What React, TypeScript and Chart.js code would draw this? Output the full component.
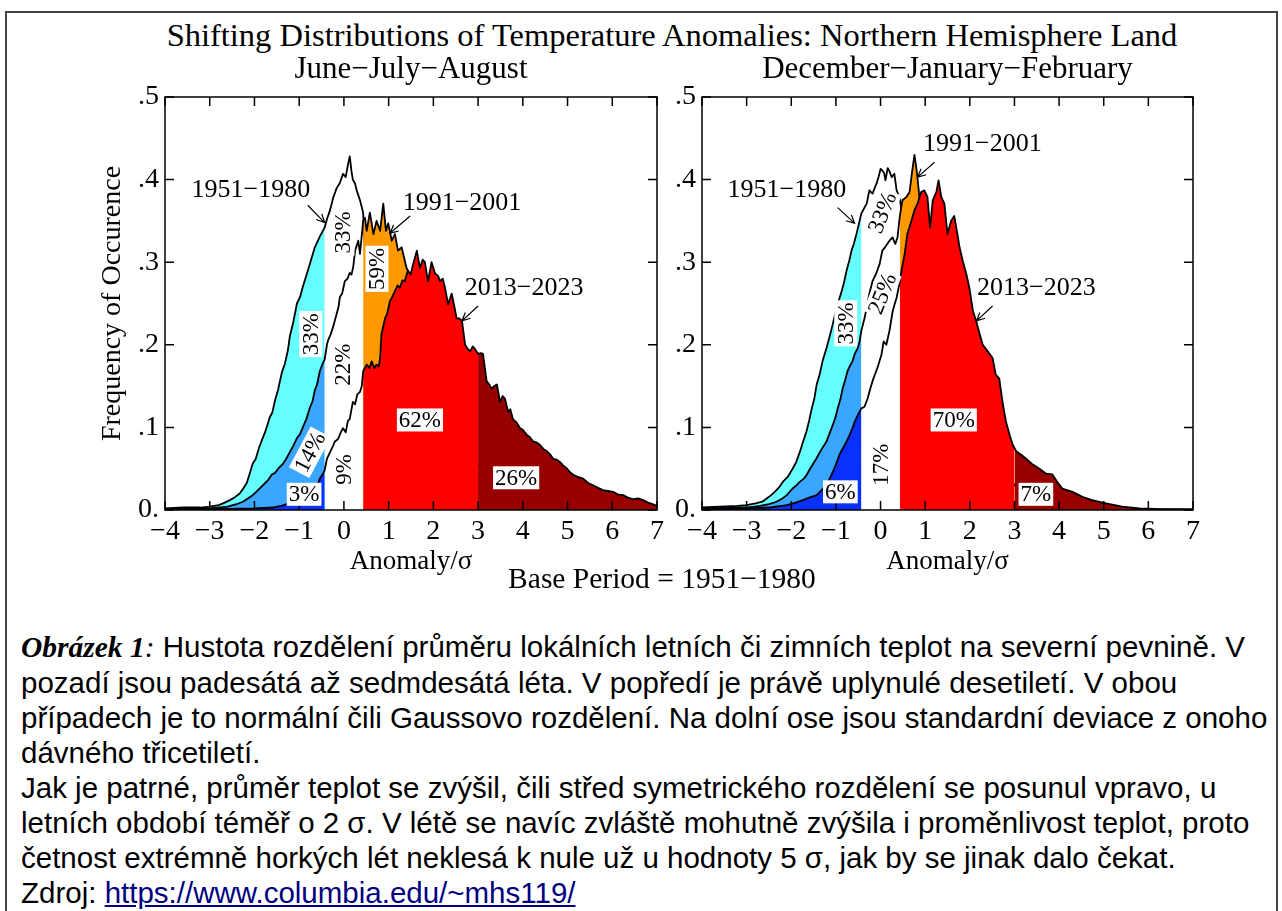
import React, { useEffect, useRef } from 'react';
import { Chart, registerables } from 'chart.js';

Chart.register(...registerables);

const SERIF = "'Liberation Serif', 'Times New Roman', serif";
const SANS = "'Liberation Sans', Arial, sans-serif";

// ---------------- data ----------------
const xTickLabels = ['−4', '−3', '−2', '−1', '0', '1', '2', '3', '4', '5', '6', '7'];
const yTickLabels = ['0.', '.1', '.2', '.3', '.4', '.5'];

// category thresholds (in sigma)
const COLD_EDGE = -0.43;
const HOT_EDGE = 0.43;
const EXTREME_EDGE = 3.0;

// June-July-August  [anomaly/σ, frequency]
const jja1951 = [[-4.0,0.002],[-3.6,0.003],[-3.2,0.003],[-3.0,0.004],[-2.8,0.006],[-2.7,0.008],[-2.55,0.012],[-2.45,0.015],[-2.33,0.02],[-2.25,0.026],[-2.17,0.033],[-2.1,0.045],[-2.04,0.056],[-1.97,0.062],[-1.9,0.075],[-1.81,0.088],[-1.75,0.096],[-1.66,0.112],[-1.6,0.118],[-1.54,0.133],[-1.47,0.146],[-1.39,0.166],[-1.32,0.177],[-1.25,0.194],[-1.21,0.21],[-1.13,0.228],[-1.05,0.25],[-0.98,0.258],[-0.92,0.27],[-0.84,0.284],[-0.76,0.298],[-0.65,0.318],[-0.54,0.331],[-0.43,0.342],[-0.38,0.352],[-0.31,0.363],[-0.24,0.378],[-0.16,0.39],[-0.09,0.396],[-0.02,0.407],[0.04,0.403],[0.09,0.418],[0.13,0.428],[0.17,0.41],[0.2,0.4],[0.25,0.395],[0.29,0.386],[0.36,0.375],[0.43,0.36],[0.47,0.31],[0.6,0.29],[0.8,0.265],[1.0,0.235],[1.2,0.2],[1.5,0.14],[1.8,0.09],[2.1,0.05],[2.5,0.02],[3.0,0.006],[3.5,0.002],[4.0,0.001],[5.0,0],[7.0,0]];
const jja1991 = [[-4.0,0.001],[-3.0,0.002],[-2.6,0.004],[-2.4,0.007],[-2.26,0.01],[-2.15,0.014],[-2.04,0.018],[-1.92,0.024],[-1.81,0.03],[-1.7,0.036],[-1.61,0.043],[-1.54,0.045],[-1.47,0.05],[-1.36,0.056],[-1.29,0.062],[-1.21,0.07],[-1.13,0.078],[-1.05,0.087],[-0.98,0.092],[-0.92,0.1],[-0.84,0.11],[-0.76,0.124],[-0.7,0.132],[-0.65,0.145],[-0.6,0.152],[-0.54,0.168],[-0.47,0.178],[-0.43,0.182],[-0.38,0.2],[-0.35,0.206],[-0.3,0.212],[-0.24,0.222],[-0.16,0.238],[-0.12,0.246],[-0.09,0.258],[-0.04,0.262],[0.02,0.277],[0.08,0.28],[0.13,0.287],[0.17,0.285],[0.21,0.295],[0.25,0.314],[0.32,0.326],[0.36,0.31],[0.43,0.35],[0.47,0.354],[0.51,0.338],[0.58,0.36],[0.66,0.334],[0.73,0.35],[0.81,0.338],[0.88,0.371],[0.94,0.338],[0.99,0.347],[1.07,0.326],[1.14,0.334],[1.21,0.314],[1.29,0.318],[1.4,0.293],[1.48,0.284],[1.6,0.27],[1.8,0.24],[2.0,0.2],[2.3,0.15],[2.6,0.1],[3.0,0.055],[3.5,0.025],[4.0,0.012],[4.5,0.006],[5.0,0.003],[6.0,0.001],[7.0,0]];
const jja2013 = [[-4.0,0.001],[-3.0,0.001],[-2.0,0.002],[-1.6,0.003],[-1.4,0.005],[-1.28,0.007],[-1.1,0.008],[-0.95,0.01],[-0.86,0.011],[-0.76,0.013],[-0.68,0.018],[-0.61,0.026],[-0.54,0.038],[-0.47,0.044],[-0.43,0.048],[-0.38,0.062],[-0.31,0.07],[-0.24,0.078],[-0.2,0.083],[-0.13,0.086],[-0.07,0.094],[-0.02,0.099],[0.04,0.094],[0.09,0.108],[0.13,0.11],[0.2,0.131],[0.25,0.128],[0.3,0.14],[0.36,0.143],[0.4,0.15],[0.43,0.168],[0.51,0.176],[0.57,0.172],[0.62,0.18],[0.68,0.172],[0.73,0.176],[0.78,0.174],[0.81,0.184],[0.84,0.213],[0.92,0.232],[0.97,0.238],[1.03,0.253],[1.08,0.258],[1.14,0.265],[1.2,0.272],[1.25,0.269],[1.31,0.278],[1.36,0.277],[1.43,0.29],[1.49,0.285],[1.55,0.298],[1.63,0.314],[1.7,0.293],[1.76,0.303],[1.81,0.3],[1.88,0.277],[1.96,0.3],[2.04,0.286],[2.1,0.284],[2.15,0.277],[2.21,0.28],[2.26,0.269],[2.33,0.249],[2.41,0.262],[2.47,0.246],[2.52,0.232],[2.58,0.232],[2.64,0.229],[2.71,0.2],[2.77,0.195],[2.82,0.192],[2.88,0.198],[2.93,0.195],[3.0,0.189],[3.06,0.19],[3.11,0.189],[3.19,0.156],[3.25,0.152],[3.3,0.147],[3.36,0.15],[3.42,0.152],[3.49,0.131],[3.55,0.138],[3.6,0.135],[3.67,0.119],[3.72,0.122],[3.78,0.11],[3.86,0.106],[3.94,0.099],[4.0,0.097],[4.09,0.091],[4.16,0.088],[4.23,0.083],[4.3,0.082],[4.38,0.079],[4.46,0.074],[4.54,0.071],[4.6,0.068],[4.68,0.062],[4.75,0.061],[4.83,0.058],[4.9,0.054],[4.99,0.05],[5.05,0.046],[5.12,0.043],[5.23,0.04],[5.35,0.038],[5.45,0.033],[5.57,0.03],[5.68,0.027],[5.79,0.024],[5.9,0.023],[6.02,0.022],[6.12,0.019],[6.24,0.018],[6.35,0.015],[6.47,0.013],[6.58,0.014],[6.69,0.012],[6.8,0.009],[6.9,0.007],[7.0,0.005]];

// December-January-February
const djf1951 = [[-4.0,0.003],[-3.6,0.004],[-3.2,0.005],[-3.0,0.006],[-2.8,0.008],[-2.65,0.01],[-2.55,0.014],[-2.45,0.018],[-2.37,0.022],[-2.28,0.027],[-2.19,0.034],[-2.08,0.04],[-1.97,0.05],[-1.89,0.058],[-1.81,0.07],[-1.74,0.082],[-1.66,0.095],[-1.6,0.108],[-1.54,0.123],[-1.48,0.136],[-1.43,0.152],[-1.36,0.165],[-1.3,0.18],[-1.21,0.196],[-1.14,0.21],[-1.07,0.225],[-0.98,0.246],[-0.87,0.265],[-0.82,0.275],[-0.76,0.29],[-0.7,0.302],[-0.65,0.314],[-0.6,0.322],[-0.54,0.334],[-0.47,0.35],[-0.43,0.359],[-0.36,0.366],[-0.31,0.371],[-0.25,0.387],[-0.18,0.383],[-0.13,0.39],[-0.09,0.395],[-0.04,0.404],[0.0,0.413],[0.04,0.411],[0.08,0.408],[0.11,0.399],[0.16,0.414],[0.2,0.41],[0.25,0.403],[0.31,0.407],[0.36,0.387],[0.43,0.378],[0.5,0.35],[0.7,0.31],[1.0,0.24],[1.3,0.17],[1.6,0.11],[2.0,0.05],[2.5,0.018],[3.0,0.006],[3.5,0.002],[4.0,0.001],[7.0,0]];
const djf1991 = [[-4.0,0.002],[-3.0,0.003],[-2.7,0.005],[-2.5,0.007],[-2.33,0.01],[-2.2,0.014],[-2.1,0.018],[-1.97,0.026],[-1.88,0.03],[-1.81,0.034],[-1.72,0.038],[-1.66,0.042],[-1.58,0.05],[-1.52,0.055],[-1.44,0.062],[-1.36,0.07],[-1.28,0.077],[-1.21,0.083],[-1.14,0.093],[-1.07,0.103],[-1.0,0.114],[-0.96,0.123],[-0.9,0.134],[-0.85,0.147],[-0.8,0.156],[-0.74,0.168],[-0.68,0.175],[-0.63,0.18],[-0.57,0.19],[-0.51,0.196],[-0.47,0.204],[-0.43,0.217],[-0.36,0.232],[-0.31,0.245],[-0.25,0.262],[-0.18,0.277],[-0.1,0.286],[-0.02,0.298],[0.04,0.314],[0.1,0.318],[0.2,0.326],[0.27,0.33],[0.33,0.322],[0.38,0.33],[0.43,0.355],[0.49,0.375],[0.58,0.379],[0.65,0.385],[0.71,0.411],[0.76,0.43],[0.81,0.411],[0.85,0.39],[0.89,0.366],[0.95,0.35],[1.1,0.32],[1.3,0.28],[1.6,0.22],[2.0,0.15],[2.5,0.07],[3.0,0.03],[3.5,0.012],[4.0,0.005],[5.0,0.001],[7.0,0]];
const djf2013 = [[-4.0,0.001],[-3.0,0.002],[-2.5,0.003],[-2.1,0.006],[-1.9,0.009],[-1.74,0.012],[-1.6,0.015],[-1.43,0.018],[-1.32,0.024],[-1.21,0.03],[-1.14,0.038],[-1.07,0.046],[-1.0,0.055],[-0.92,0.067],[-0.84,0.075],[-0.76,0.083],[-0.7,0.09],[-0.63,0.099],[-0.57,0.108],[-0.51,0.115],[-0.43,0.123],[-0.36,0.125],[-0.29,0.135],[-0.24,0.145],[-0.18,0.156],[-0.12,0.165],[-0.07,0.172],[0.02,0.188],[0.07,0.204],[0.13,0.2],[0.2,0.217],[0.27,0.24],[0.32,0.25],[0.36,0.257],[0.43,0.276],[0.47,0.29],[0.54,0.31],[0.6,0.334],[0.69,0.35],[0.76,0.363],[0.83,0.371],[0.91,0.385],[0.98,0.387],[1.05,0.379],[1.11,0.342],[1.17,0.375],[1.25,0.385],[1.3,0.399],[1.36,0.379],[1.43,0.371],[1.5,0.334],[1.58,0.35],[1.65,0.356],[1.71,0.338],[1.77,0.318],[1.84,0.302],[1.92,0.286],[1.99,0.269],[2.07,0.241],[2.14,0.229],[2.22,0.213],[2.29,0.2],[2.4,0.192],[2.51,0.184],[2.58,0.164],[2.66,0.159],[2.74,0.128],[2.81,0.107],[2.89,0.091],[2.96,0.079],[3.0,0.075],[3.04,0.071],[3.15,0.067],[3.26,0.062],[3.41,0.055],[3.56,0.05],[3.71,0.044],[3.85,0.043],[3.96,0.034],[4.07,0.026],[4.3,0.022],[4.52,0.016],[4.74,0.012],[5.05,0.008],[5.41,0.004],[5.8,0.002],[6.3,0.001],[7.0,0.001]];

// percentage labels
const jjaPct = [
  { text: '33%', x: -0.74, y: 0.213, rot: -90 },
  { text: '14%', x: -0.76, y: 0.07, rot: -62 },
  { text: '3%', x: -0.89, y: 0.019, rot: 0 },
  { text: '33%', x: -0.02, y: 0.336, rot: -90 },
  { text: '22%', x: -0.02, y: 0.176, rot: -90 },
  { text: '9%', x: 0.0, y: 0.049, rot: -90 },
  { text: '59%', x: 0.74, y: 0.292, rot: -90 },
  { text: '62%', x: 1.7, y: 0.109, rot: 0 },
  { text: '26%', x: 3.85, y: 0.039, rot: 0 },
];
const djfPct = [
  { text: '33%', x: -0.78, y: 0.226, rot: -90 },
  { text: '33%', x: 0.04, y: 0.36, rot: -68 },
  { text: '25%', x: 0.04, y: 0.262, rot: -68 },
  { text: '17%', x: 0.0, y: 0.055, rot: -90 },
  { text: '6%', x: -0.9, y: 0.022, rot: 0 },
  { text: '70%', x: 1.64, y: 0.109, rot: 0 },
  { text: '7%', x: 3.48, y: 0.019, rot: 0 },
];

// period annotations (text centre, arrow tail, arrow head)
const jjaNotes = [
  { text: '1951−1980', x: -2.08, y: 0.387, ax: -0.81, ay: 0.369, hx: -0.43, hy: 0.348 },
  { text: '1991−2001', x: 2.64, y: 0.372, ax: 1.48, ay: 0.356, hx: 1.03, hy: 0.335 },
  { text: '2013−2023', x: 4.03, y: 0.269, ax: 3.0, ay: 0.247, hx: 2.64, hy: 0.229 },
];
const djfNotes = [
  { text: '1951−1980', x: -2.1, y: 0.387, ax: -0.96, ay: 0.366, hx: -0.58, hy: 0.347 },
  { text: '1991−2001', x: 2.28, y: 0.443, ax: 1.21, ay: 0.421, hx: 0.83, hy: 0.403 },
  { text: '2013−2023', x: 3.49, y: 0.269, ax: 2.51, ay: 0.247, hx: 2.15, hy: 0.229 },
];

// ---------------- styles ----------------
const CYAN = '#66ffff';
const LIGHTBLUE = '#3aa6ff';
const DARKBLUE = '#0a30ff';
const ORANGE = '#ff9900';
const RED = '#ff0000';
const DARKRED = '#980000';
const WHITE = '#ffffff';

const layerColors = [
  { cold: CYAN, normal: WHITE, hot: WHITE, extreme: WHITE },
  { cold: LIGHTBLUE, normal: WHITE, hot: ORANGE, extreme: ORANGE },
  { cold: DARKBLUE, normal: WHITE, hot: RED, extreme: DARKRED },
];

const TICK_FONT = 28;
const SUBTITLE_FONT = 31;
const MAIN_TITLE_FONT = 32.5;
const BASE_FONT = 29.5;
const YTITLE_FONT = 28;
const XTITLE_FONT = 27;
const NOTE_FONT = 26;
const PCT_FONT = 23;
const TICK_LEN = 9;

function buildDatasets(curves: number[][][]) {
  const ds: any[] = [];
  curves.forEach((curve, li) => {
    const c = layerColors[li];
    const pts = curve.map(([x, y]) => ({ x, y }));
    const bands: [number, number, string][] = [
      [-Infinity, COLD_EDGE, c.cold],
      [COLD_EDGE, HOT_EDGE, c.normal],
      [HOT_EDGE, EXTREME_EDGE, c.hot],
      [EXTREME_EDGE, Infinity, c.extreme],
    ];
    const base = (curves.length - 1 - li) * 10;
    bands.forEach(([lo, hi, color]) => {
      ds.push({
        data: pts.filter((p) => p.x >= lo && p.x <= hi),
        fill: 'origin',
        backgroundColor: color,
        borderColor: 'rgba(0,0,0,0)',
        borderWidth: 0,
        pointRadius: 0,
        order: base + 1,
      });
    });
    ds.push({
      data: pts,
      fill: false,
      borderColor: '#000',
      borderWidth: 1.8,
      pointRadius: 0,
      order: base,
    });
  });
  return ds;
}

const decorPlugin = {
  id: 'decor',
  afterDatasetsDraw(chart: any, _args: any, opts: any) {
    const { ctx, chartArea: a, scales } = chart;
    const xs = scales.x;
    const ys = scales.y;
    ctx.save();
    // frame + inward ticks
    ctx.strokeStyle = '#000';
    ctx.lineWidth = 1.5;
    ctx.strokeRect(a.left, a.top, a.right - a.left, a.bottom - a.top);
    ctx.beginPath();
    xs.ticks.forEach((t: any) => {
      const p = xs.getPixelForValue(t.value);
      ctx.moveTo(p, a.bottom);
      ctx.lineTo(p, a.bottom - TICK_LEN);
      ctx.moveTo(p, a.top);
      ctx.lineTo(p, a.top + TICK_LEN);
    });
    ys.ticks.forEach((t: any) => {
      const p = ys.getPixelForValue(t.value);
      ctx.moveTo(a.left, p);
      ctx.lineTo(a.left + TICK_LEN, p);
      ctx.moveTo(a.right, p);
      ctx.lineTo(a.right - TICK_LEN, p);
    });
    ctx.stroke();

    // percentage boxes
    ctx.font = `${PCT_FONT}px ${SERIF}`;
    ctx.textAlign = 'center';
    ctx.textBaseline = 'middle';
    (opts.pct || []).forEach((l: any) => {
      const px = xs.getPixelForValue(l.x);
      const py = ys.getPixelForValue(l.y);
      ctx.save();
      ctx.translate(px, py);
      ctx.rotate((l.rot * Math.PI) / 180);
      const w = ctx.measureText(l.text).width + 4;
      const h = PCT_FONT;
      ctx.fillStyle = '#fff';
      ctx.fillRect(-w / 2, -h / 2, w, h);
      ctx.fillStyle = '#000';
      ctx.fillText(l.text, 0, 1);
      ctx.restore();
    });

    // period annotations with arrows
    ctx.font = `${NOTE_FONT}px ${SERIF}`;
    (opts.notes || []).forEach((n: any) => {
      ctx.fillStyle = '#000';
      ctx.fillText(n.text, xs.getPixelForValue(n.x), ys.getPixelForValue(n.y));
      const x1 = xs.getPixelForValue(n.ax);
      const y1 = ys.getPixelForValue(n.ay);
      const x2 = xs.getPixelForValue(n.hx);
      const y2 = ys.getPixelForValue(n.hy);
      const ang = Math.atan2(y2 - y1, x2 - x1);
      ctx.lineWidth = 1.2;
      ctx.beginPath();
      ctx.moveTo(x1, y1);
      ctx.lineTo(x2, y2);
      ctx.moveTo(x2 - 9 * Math.cos(ang - 0.45), y2 - 9 * Math.sin(ang - 0.45));
      ctx.lineTo(x2, y2);
      ctx.lineTo(x2 - 9 * Math.cos(ang + 0.45), y2 - 9 * Math.sin(ang + 0.45));
      ctx.stroke();
    });
    ctx.restore();
  },
};

type PanelCfg = {
  title: string;
  yTitle: string | null;
  curves: number[][][];
  pct: any[];
  notes: any[];
  left: number;
  top: number;
  width: number;
  height: number;
  yW: number;
};

const jjaPanel: PanelCfg = {
  title: 'June−July−August',
  yTitle: 'Frequency of Occurence',
  curves: [jja1951, jja1991, jja2013],
  pct: jjaPct,
  notes: jjaNotes,
  left: 90,
  top: 40,
  width: 582,
  height: 542,
  yW: 75,
};

const djfPanel: PanelCfg = {
  title: 'December−January−February',
  yTitle: null,
  curves: [djf1951, djf1991, djf2013],
  pct: djfPct,
  notes: djfNotes,
  left: 647,
  top: 40,
  width: 561,
  height: 542,
  yW: 55,
};

function Panel({ cfg }: { cfg: PanelCfg }) {
  const ref = useRef<HTMLCanvasElement>(null);
  useEffect(() => {
    const titleLH = SUBTITLE_FONT * 1.2;
    const padTop = 70 - cfg.top - titleLH / 2;
    const padBottom = 97 - cfg.top - titleLH - padTop;
    const chart = new Chart(ref.current as HTMLCanvasElement, {
      type: 'line',
      data: { datasets: buildDatasets(cfg.curves) },
      options: {
        responsive: false,
        animation: false,
        events: [],
        layout: { padding: { left: 0, right: 15, top: 0, bottom: 4 } },
        elements: { line: { tension: 0, borderJoinStyle: 'round' } },
        plugins: {
          legend: { display: false },
          tooltip: { enabled: false },
          title: {
            display: true,
            text: cfg.title,
            fullSize: false,
            color: '#000',
            font: { family: SERIF, size: SUBTITLE_FONT, weight: 'normal' },
            padding: { top: padTop, bottom: padBottom },
          },
          decor: { pct: cfg.pct, notes: cfg.notes },
        } as any,
        scales: {
          x: {
            type: 'linear',
            min: -4,
            max: 7,
            grid: { display: false, drawTicks: false, tickLength: 0 },
            border: { display: false },
            ticks: {
              stepSize: 1,
              autoSkip: false,
              maxRotation: 0,
              padding: 5,
              color: '#000',
              font: { family: SERIF, size: TICK_FONT },
              callback: (_v: any, i: number) => xTickLabels[i],
            },
            title: {
              display: true,
              text: 'Anomaly/σ',
              color: '#000',
              font: { family: SERIF, size: XTITLE_FONT },
              padding: { top: 0, bottom: 0 },
            },
            afterFit: (s: any) => {
              s.height = 68;
            },
          },
          y: {
            type: 'linear',
            min: 0,
            max: 0.5,
            grid: { display: false, drawTicks: false, tickLength: 0 },
            border: { display: false },
            ticks: {
              stepSize: 0.1,
              padding: 6,
              color: '#000',
              font: { family: SERIF, size: TICK_FONT },
              callback: (_v: any, i: number) => yTickLabels[i],
            },
            title: {
              display: !!cfg.yTitle,
              text: cfg.yTitle || '',
              color: '#000',
              font: { family: SERIF, size: YTITLE_FONT },
              padding: { top: 6, bottom: 0 },
            },
            afterFit: (s: any) => {
              s.width = cfg.yW;
            },
          },
        },
      } as any,
      plugins: [decorPlugin],
    });
    return () => chart.destroy();
  }, []);
  return (
    <canvas
      ref={ref}
      width={cfg.width}
      height={cfg.height}
      style={{ position: 'absolute', left: cfg.left, top: cfg.top, width: cfg.width, height: cfg.height }}
    />
  );
}

const captionLines1 = [
  ' Hustota rozdělení průměru lokálních letních či zimních teplot na severní pevnině. V',
  'pozadí jsou padesátá až sedmdesátá léta. V popředí je právě uplynulé desetiletí. V obou',
  'případech je to normální čili Gaussovo rozdělení. Na dolní ose jsou standardní deviace z onoho',
  'dávného třicetiletí.',
];
const captionLines2 = [
  'Jak je patrné, průměr teplot se zvýšil, čili střed symetrického rozdělení se posunul vpravo, u',
  'letních období téměř o 2 σ. V létě se navíc zvláště mohutně zvýšila i proměnlivost teplot, proto',
  'četnost extrémně horkých lét neklesá k nule už u hodnoty 5 σ, jak by se jinak dalo čekat.',
];

export default function App() {
  return (
    <div style={{ position: 'absolute', left: 0, top: 0, width: 1282, height: 911, overflow: 'hidden', background: '#fff' }}>
      <div style={{ position: 'absolute', left: 5, top: 11, width: 1269, height: 1000, border: '2px solid #444' }} />
      <div
        style={{
          position: 'absolute', left: 72, top: 16, width: 1200, textAlign: 'center',
          font: `${MAIN_TITLE_FONT}px ${SERIF}`, lineHeight: '38px', color: '#000', whiteSpace: 'nowrap',
        }}
      >
        Shifting Distributions of Temperature Anomalies: Northern Hemisphere Land
      </div>
      <Panel cfg={jjaPanel} />
      <Panel cfg={djfPanel} />
      <div
        style={{
          position: 'absolute', left: 462, top: 561, width: 400, textAlign: 'center',
          font: `${BASE_FONT}px ${SERIF}`, lineHeight: '34px', color: '#000', whiteSpace: 'nowrap',
        }}
      >
        Base Period = 1951−1980
      </div>
      <div
        style={{
          position: 'absolute', left: 21, top: 629, font: `29.5px ${SANS}`, lineHeight: '35px',
          color: '#000', whiteSpace: 'nowrap',
        }}
      >
        <div>
          <span style={{ fontFamily: SERIF, fontWeight: 'bold', fontStyle: 'italic' }}>Obrázek 1</span>
          <span style={{ fontFamily: SERIF, fontStyle: 'italic' }}>:</span>
          {captionLines1[0]}
        </div>
        {captionLines1.slice(1).map((l, i) => (
          <div key={'a' + i}>{l}</div>
        ))}
        {captionLines2.map((l, i) => (
          <div key={'b' + i}>{l}</div>
        ))}
        <div>
          Zdroj:{' '}
          <a href="https://www.columbia.edu/~mhs119/" style={{ color: '#000080', textDecoration: 'underline' }}>
            https://www.columbia.edu/~mhs119/
          </a>
        </div>
      </div>
    </div>
  );
}
